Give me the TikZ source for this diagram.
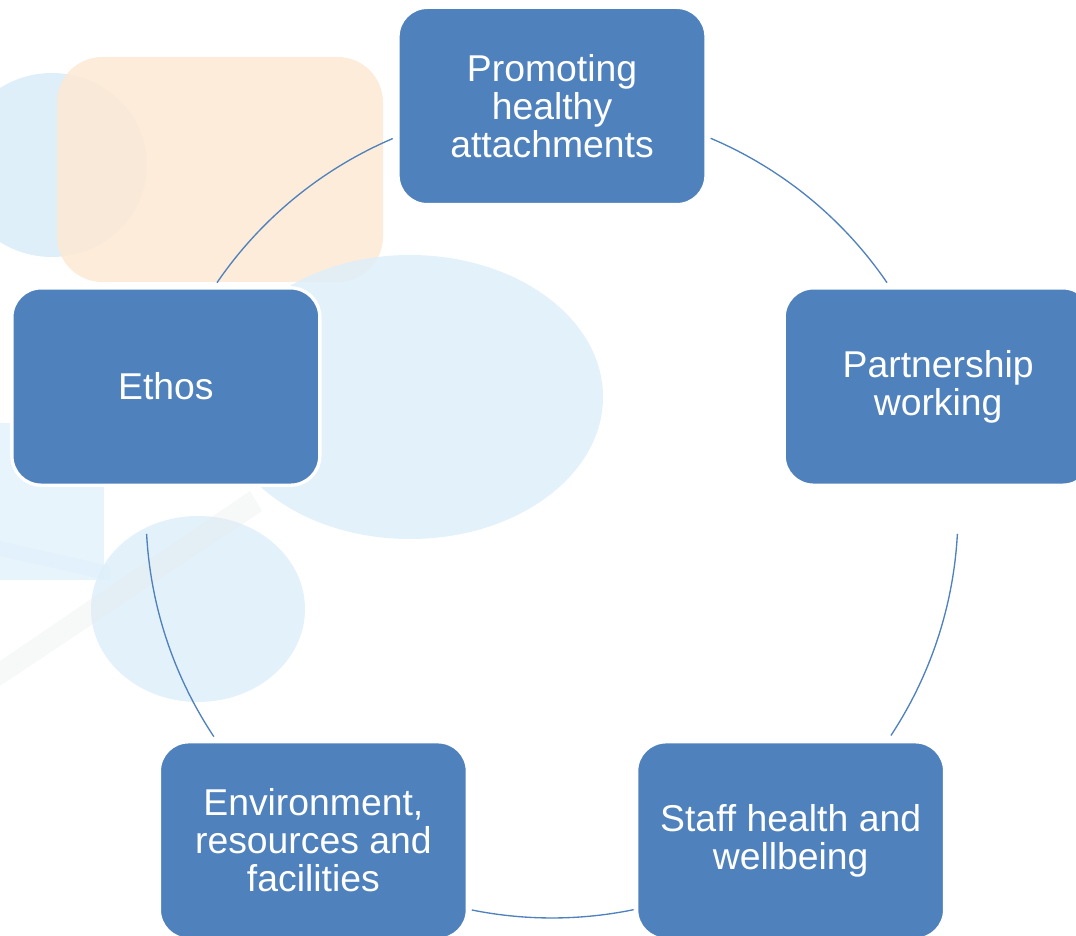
\documentclass[tikz,border=0pt]{standalone}
\usepackage{fontspec}
\setmainfont{Liberation Sans}
\usetikzlibrary{calc}
\definecolor{boxblue}{RGB}{79,129,189}
\definecolor{paleblue}{RGB}{222,239,250}
\definecolor{palepeach}{RGB}{253,233,211}
\definecolor{palegrey}{RGB}{232,234,236}
\begin{document}
\begin{tikzpicture}[x=0.75pt, y=0.75pt,
    block/.style = {draw=white, line width=2.5pt, fill=boxblue, text=white,
      rounded corners=22pt, minimum width=231pt, minimum height=148pt,
      align=center, font=\fontsize{28}{28.5}\selectfont},
    link/.style = {draw=boxblue, line width=1pt}]
  \useasboundingbox (0,0) rectangle (1076,936);
  \clip (0,0) rectangle (1076,936);

  % faint background
  \fill[paleblue] (52,771) ellipse [x radius=95, y radius=92];
  \fill[paleblue, opacity=0.7] (0,356) rectangle (104,513);
  \fill[palepeach, opacity=0.85, rounded corners=34pt] (57,654) rectangle (383,879);
  \fill[paleblue, opacity=0.85] (410,539) ellipse [x radius=193, y radius=142];
  \fill[paleblue, opacity=0.85] (198,327) ellipse [x radius=107, y radius=93];
  \fill[palegrey, opacity=0.35] (0,275) -- (250,445) -- (262,425) -- (0,250) -- cycle;
  \fill[paleblue, opacity=0.6] (0,395) -- (110,370) -- (110,355) -- (0,380) -- cycle;

  \coordinate (hub) at (552,424);

  \draw[link] (hub) ++(67:406) arc [start angle=67, end angle=34.4, radius=406];
  \draw[link] (hub) ++(-3.1:406) arc [start angle=-3.1, end angle=-33.4, radius=406];
  \draw[link] (hub) ++(-78.4:406) arc [start angle=-78.4, end angle=-101.4, radius=406];
  \draw[link] (hub) ++(-146.4:406) arc [start angle=-146.4, end angle=-176.9, radius=406];
  \draw[link] (hub) ++(145.6:406) arc [start angle=145.6, end angle=113.1, radius=406];

  \node[block] (attach) at ($(hub)+(90:406)$) {Promoting\\healthy\\attachments};
  \node[block] (partner) at ($(hub)+(18:406)$) {Partnership\\working};
  \node[block] (staff) at ($(hub)+(-54:406)$) {Staff health and\\wellbeing};
  \node[block] (environ) at ($(hub)+(-126:406)$) {Environment,\\resources and\\facilities};
  \node[block] (ethos) at ($(hub)+(162:406)$) {Ethos};
\end{tikzpicture}
\end{document}
